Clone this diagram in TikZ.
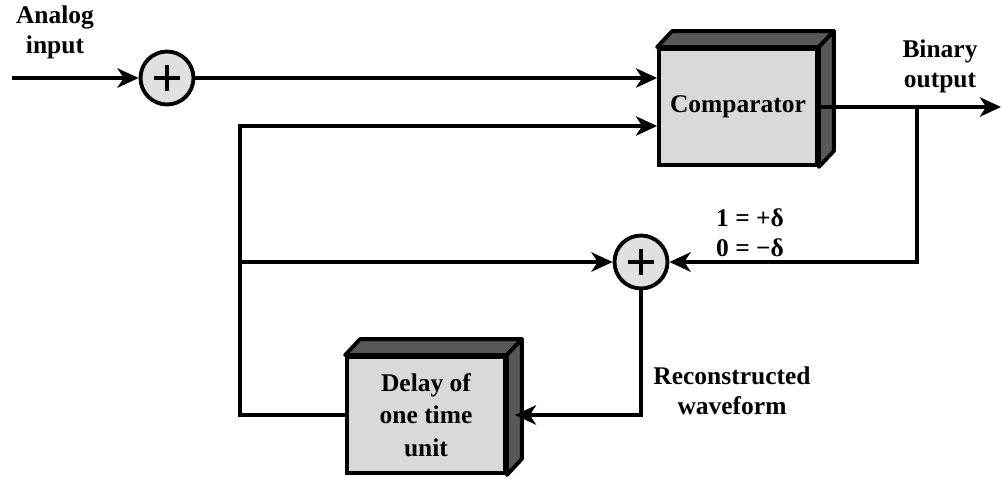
\documentclass[tikz,border=0pt]{standalone}
\usepackage{fontspec}
\setmainfont{Liberation Serif}[BoldFont={Liberation Serif Bold}]
\usepackage{xcolor}
\usepackage{tikz}
\usetikzlibrary{arrows.meta}

\definecolor{facegray}{HTML}{D9D9D9}
\definecolor{sidegray}{HTML}{585858}
\definecolor{sumgray}{HTML}{E0E0E0}

\begin{document}
\begin{tikzpicture}[x=0.02cm, y=-0.02cm, line width=2.2pt, >={Stealth[length=12pt,width=11pt,inset=3.5pt]},
  lbl/.style={align=center,font=\bfseries\fontsize{14.5}{17}\selectfont},
  cube/.style={draw,fill=facegray,align=center,minimum width=3.16cm,minimum height=2.32cm,font=\bfseries\fontsize{14.5}{17}\selectfont},
  face/.style={fill=sidegray,draw=black,line join=round},
  sum/.style={draw,circle,fill=sumgray,minimum size=1.06cm,inner sep=0pt,
    path picture={\draw[line width=1.9pt] ([xshift=-0.26cm]path picture bounding box.center) -- ([xshift=0.26cm]path picture bounding box.center);
      \draw[line width=1.9pt] ([yshift=-0.26cm]path picture bounding box.center) -- ([yshift=0.26cm]path picture bounding box.center);}}]
\useasboundingbox (0,0) rectangle (1003,477);
% blocks
\node[cube] (comp) at (738,107) {Comparator};
\node[cube, font=\bfseries\fontsize{14.5}{18.5}\selectfont] (delay) at (426,415) {Delay of\\one time\\unit};
\foreach \b in {comp,delay}{
  \filldraw[face] (\b.north west) -- ++(15,-16) -- ([shift={(15,-16)}]\b.north east) -- (\b.north east) -- cycle;
  \filldraw[face] (\b.north east) -- ([shift={(15,-16)}]\b.north east) -- ([shift={(15,-16)}]\b.south east) -- (\b.south east) -- cycle;
}
\node[sum] (s1) at (167,78) {};
\node[sum] (s2) at (641,262) {};
% labels
\node[lbl] (ain) at (55,32) {Analog\\input};
\node[lbl] (bout) at (940,66) {Binary\\output};
\node[lbl] (delta) at (750,233) {1 = +δ\\0 = −δ};
\node[lbl] (recon) at (732,391) {Reconstructed\\waveform};
% points
\coordinate (in) at (12,78);
\coordinate (out) at (1001,107);
\coordinate (br) at (917,107);
\coordinate (lt) at (240,126);
% connections
\draw[->] (in) -- (s1);
\draw[->] (s1) -- (s1 -| comp.west);
\draw[->] (comp.east) -- (out);
\draw[->] (br) |- (s2);
\draw[->] (s2) |- ([xshift=0.16cm]delay.east);
\draw[->] (delay.west) -| (lt) -- (lt -| comp.west);
\draw[->] (lt |- s2) -- (s2);
\end{tikzpicture}
\end{document}
